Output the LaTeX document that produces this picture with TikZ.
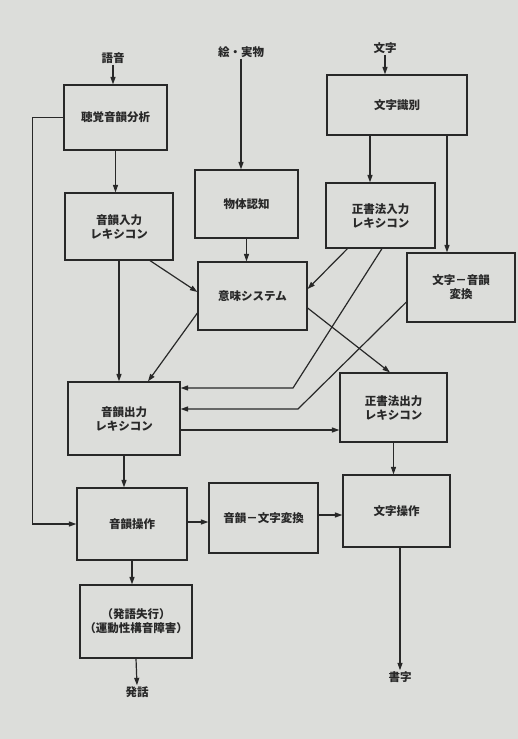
\documentclass[tikz,border=0pt]{standalone}
\usepackage{fontspec}
\newfontfamily\jp{Noto Sans CJK JP}
\usetikzlibrary{arrows.meta,calc}
\definecolor{bg}{RGB}{220,221,218}
\definecolor{ink}{RGB}{40,40,40}
\tikzset{
  box/.style={draw=ink, line width=1.2pt, rectangle, align=center, inner sep=0pt,
    font=\jp\bfseries\fontsize{11.5}{14}\selectfont, text=ink},
  lab/.style={inner sep=1pt, font=\jp\bfseries\fontsize{11.5}{14}\selectfont, text=ink},
  conn/.style={draw=ink, line width=1.2pt, -{Triangle[length=7.5pt,width=5pt]}},
}
\begin{document}
\begin{tikzpicture}[x=1pt,y=-1pt]
\fill[bg] (0,0) rectangle (518,739);
\useasboundingbox (0,0) rectangle (518,739);

% boxes
\node[box, minimum width=103pt, minimum height=65pt] (aud)  at (115.5,117.5) {聴覚音韻分析};
\node[box, minimum width=108pt, minimum height=67pt] (pin)  at (119,226.5) {音韻入力\\レキシコン};
\node[box, minimum width=103pt, minimum height=68pt] (obj)  at (246.5,204) {物体認知};
\node[box, minimum width=140pt, minimum height=60pt] (let)  at (397,105) {文字識別};
\node[box, minimum width=109pt, minimum height=65pt] (oin)  at (380.5,215.5) {正書法入力\\レキシコン};
\node[box, minimum width=108pt, minimum height=69pt] (gpc)  at (461,287.5) {文字－音韻\\変換};
\node[box, minimum width=109pt, minimum height=68pt] (sem)  at (252.5,296) {意味システム};
\node[box, minimum width=112pt, minimum height=73pt] (pout) at (124,418.5) {音韻出力\\レキシコン};
\node[box, minimum width=107pt, minimum height=69pt] (oout) at (393.5,407.5) {正書法出力\\レキシコン};
\node[box, minimum width=110pt, minimum height=72pt] (pbuf) at (132,524) {音韻操作};
\node[box, minimum width=109pt, minimum height=70pt] (p2g)  at (263.5,518) {音韻－文字変換};
\node[box, minimum width=107pt, minimum height=72pt] (gbuf) at (396.5,511) {文字操作};
\node[box, minimum width=112pt, minimum height=73pt] (art)  at (136,621.5) {（発語失行）\\（運動性構音障害）};

% labels
\node[lab] (speechin) at (113,58) {語音};
\node[lab] (picin)    at (241,52) {絵・実物};
\node[lab] (letin)    at (385,48) {文字};
\node[lab] (speak)    at (137,692) {発話};
\node[lab] (write)    at (400,677) {書字};

% bend points
\coordinate (b1) at (293,388);
\coordinate (b2) at (298,409);

% input arrows
\draw[conn] (speechin.south) -- (speechin.south |- aud.north);
\draw[conn] (picin.south) -- (picin.south |- obj.north);
\draw[conn] (letin.south) -- (letin.south |- let.north);

% left column
\draw[conn] (aud.south) -- (aud.south |- pin.north);
\draw[conn] (aud.west) -- ++(-31,0) |- (pbuf.west);
\draw[conn] (pin.south) -- (pin.south |- pout.north);
\draw[conn] (pout.south) -- (pout.south |- pbuf.north);
\draw[conn] (pbuf.south) -- (pbuf.south |- art.north);
\draw[conn] (art.south) -- (speak.north);

% middle
\draw[conn] (obj.south) -- (obj.south |- sem.north);
\draw[conn] ([xshift=31pt]pin.south) -- ([yshift=4pt]sem.west);
\draw[conn] ([xshift=-33pt]oin.south) -- ([yshift=7pt]sem.east);
\draw[conn] ([yshift=-17pt]sem.west) -- ([xshift=24pt]pout.north);
\draw[conn] ([yshift=-12pt]sem.east) -- ([xshift=-3.5pt]oout.north);

% right column
\draw[conn] ([xshift=-27pt]let.south) -- ([xshift=-27pt]let.south |- oin.north);
\draw[conn] ([xshift=50pt]let.south) -- ([xshift=50pt]let.south |- gpc.north);
\draw[conn] ([xshift=1.5pt]oin.south) -- (b1) -- (b1 -| pout.east);
\draw[conn] ([yshift=-14.5pt]gpc.west) -- (b2) -- (b2 -| pout.east);
\draw[conn] ([yshift=-11.5pt]pout.east) -- ([yshift=-11.5pt]pout.east -| oout.west);
\draw[conn] (oout.south) -- (oout.south |- gbuf.north);
\draw[conn] ([xshift=3.5pt]gbuf.south) -- ([xshift=3.5pt]gbuf.south |- write.north);

% bottom row
\draw[conn] ([yshift=2pt]pbuf.east) -- ([yshift=2pt]pbuf.east -| p2g.west);
\draw[conn] ([yshift=3pt]p2g.east) -- ([yshift=3pt]p2g.east -| gbuf.west);
\end{tikzpicture}
\end{document}
